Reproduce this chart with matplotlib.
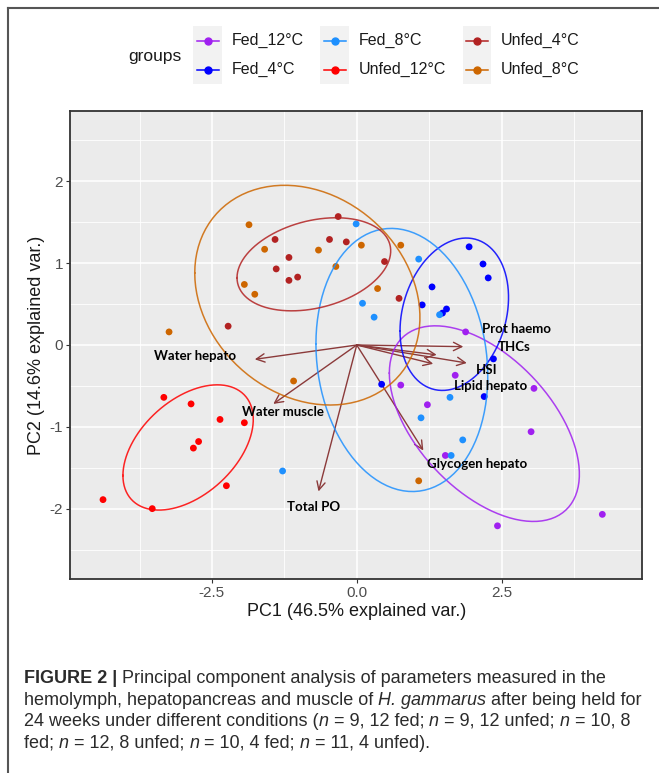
import matplotlib.pyplot as plt
import numpy as np
from matplotlib.lines import Line2D
from matplotlib.patches import Rectangle

# group order as in the legend (column-major, 3 columns x 2 rows)
groups = ["Fed_12°C", "Fed_4°C", "Fed_8°C", "Unfed_12°C", "Unfed_4°C", "Unfed_8°C"]
colors = ["#A020F0", "#0000FF", "#1E90FF", "#FF0000", "#B22222", "#CD6600"]

# PC scores
fed12_x = [1.88, 1.70, 0.76, 3.06, 1.22, 3.01, 1.53, 2.43, 4.24]
fed12_y = [0.16, -0.37, -0.49, -0.53, -0.73, -1.06, -1.35, -2.21, -2.07]
fed4_x = [1.94, 2.18, 2.27, 1.30, 1.13, 1.55, 1.48, 2.36, 0.43, 2.20]
fed4_y = [1.20, 0.99, 0.82, 0.71, 0.49, 0.44, 0.39, -0.17, -0.48, -0.63]
fed8_x = [-0.01, 1.07, 0.10, 0.30, 1.43, 1.61, 1.11, 1.83, 1.63, -1.28]
fed8_y = [1.48, 1.05, 0.51, 0.34, 0.37, -0.64, -0.89, -1.16, -1.35, -1.54]
unfed12_x = [-3.33, -2.86, -2.36, -1.94, -2.73, -2.82, -2.25, -4.38, -3.53]
unfed12_y = [-0.64, -0.72, -0.91, -0.95, -1.18, -1.26, -1.72, -1.89, -2.00]
unfed4_x = [-0.32, -1.41, -0.47, -0.18, -1.17, -1.39, -1.02, -1.17, 0.48, 0.73, -2.22]
unfed4_y = [1.57, 1.29, 1.29, 1.26, 1.07, 0.93, 0.83, 0.79, 1.02, 0.57, 0.23]
unfed8_x = [-1.86, -1.59, -0.66, 0.08, 0.76, -0.36, -1.94, -1.76, 0.36, -3.24, -1.09, 1.07]
unfed8_y = [1.47, 1.17, 1.16, 1.22, 1.22, 0.96, 0.74, 0.62, 0.69, 0.16, -0.44, -1.66]

scores_x = [fed12_x, fed4_x, fed8_x, unfed12_x, unfed4_x, unfed8_x]
scores_y = [fed12_y, fed4_y, fed8_y, unfed12_y, unfed4_y, unfed8_y]

# variable loadings (arrow tips) and label positions
var_names = ["Water hepato", "Water muscle", "Total PO", "Glycogen hepato",
             "Prot haemo", "THCs", "Lipid hepato", "HSI"]
load_x = [-1.76, -1.44, -0.66, 1.15, 1.84, 1.38, 1.32, 1.90]
load_y = [-0.175, -0.72, -1.79, -1.29, -0.02, -0.12, -0.23, -0.22]
lab_x = [-2.79, -1.28, -0.74, 2.08, 2.75, 2.72, 2.32, 2.25]
lab_y = [-0.14, -0.82, -1.98, -1.46, 0.20, -0.02, -0.50, -0.31]

x_ticks = [-2.5, 0.0, 2.5]
y_ticks = [-2, -1, 0, 1, 2]

ELLIPSE_PROB = 0.68
W, H = 659, 773


def fx(px):
    return px / W


def fy(py):
    return 1 - py / H


def data_ellipse(x, y, prob, n=100):
    pts = np.column_stack([x, y])
    mu = pts.mean(axis=0)
    sigma = np.cov(pts, rowvar=False)
    ed = np.sqrt(-2 * np.log(1 - prob))
    theta = np.linspace(-np.pi, np.pi, n)
    circle = np.column_stack([np.cos(theta), np.sin(theta)])
    upper = np.linalg.cholesky(sigma).T
    return circle @ upper * ed + mu


def draw_runs(fig, x, y, runs, size):
    renderer = fig.canvas.get_renderer()
    cur = x
    for txt, weight, style in runs:
        t = fig.text(cur, y, txt, fontsize=size, fontweight=weight, fontstyle=style,
                     family="Liberation Sans", color="#2b2b2b", va="baseline", ha="left")
        bb = t.get_window_extent(renderer=renderer)
        cur += bb.width / fig.bbox.width


plt.rcParams["font.family"] = ["Liberation Sans", "DejaVu Sans"]
plt.rcParams["axes.unicode_minus"] = False
fig = plt.figure(figsize=(W / 100, H / 100), dpi=100)
ax = fig.add_axes([fx(70), fy(579), fx(642.3) - fx(70), fy(111) - fy(579)])
ax.set_facecolor("#EBEBEB")

ax.set_xlim(-4.95, 4.93)
ax.set_ylim(-2.86, 2.86)
ax.set_xticks(x_ticks)
ax.set_xticklabels(["-2.5", "0.0", "2.5"])
ax.set_yticks(y_ticks)
ax.set_xticks([-3.75, -1.25, 1.25, 3.75], minor=True)
ax.set_yticks([-2.5, -1.5, -0.5, 0.5, 1.5, 2.5], minor=True)
ax.grid(which="major", color="white", lw=1.1, zorder=0)
ax.grid(which="minor", color="white", lw=0.6, zorder=0)
ax.set_axisbelow(True)
ax.tick_params(which="minor", length=0)
ax.tick_params(which="major", length=3, color="#333333", labelsize=11,
               labelcolor="#4D4D4D", pad=2)
for sp in ax.spines.values():
    sp.set_color("#333333")
    sp.set_linewidth(1.3)

ax.set_xlabel("PC1 (46.5% explained var.)", fontsize=13, color="#1a1a1a", labelpad=2)
ax.set_ylabel("PC2 (14.6% explained var.)", fontsize=13, color="#1a1a1a", labelpad=3)

# loadings
for tx, ty in zip(load_x, load_y):
    ax.annotate("", xy=(tx, ty), xytext=(0, 0),
                arrowprops=dict(arrowstyle="->,head_length=0.6,head_width=0.3",
                                color="#8B3A3A", lw=1.0, shrinkA=0, shrinkB=0,
                                mutation_scale=10), zorder=2)

# scores
for gx, gy, c in zip(scores_x, scores_y, colors):
    ax.scatter(gx, gy, s=24, color=c, edgecolors="none", zorder=3)

# normal data ellipses
for gx, gy, c in zip(scores_x, scores_y, colors):
    ell = data_ellipse(gx, gy, ELLIPSE_PROB)
    ax.plot(ell[:, 0], ell[:, 1], color=c, lw=1.1, alpha=0.85, zorder=4)

for name, lx, ly in zip(var_names, lab_x, lab_y):
    ax.text(lx, ly, name, ha="center", va="center", fontsize=9.5, fontweight="bold",
            family="Lato", color="black", zorder=5)

# legend, drawn ggplot style
fig.text(fx(155), fy(56), "groups", fontsize=12.5, color="#1a1a1a", ha="center", va="center")
key_cols = [207.5, 334.7, 477]
key_rows = [40.5, 69.5]
for i, (g, c) in enumerate(zip(groups, colors)):
    kx = key_cols[i // 2]
    ky = key_rows[i % 2]
    fig.patches.append(Rectangle((fx(kx - 14.5), fy(ky + 14)), 29 / W, 28 / H,
                                 transform=fig.transFigure, facecolor="#F2F2F2",
                                 edgecolor="none"))
    fig.add_artist(Line2D([fx(kx - 11), fx(kx + 11)], [fy(ky), fy(ky)], color=c, lw=1.1))
    fig.add_artist(Line2D([fx(kx)], [fy(ky)], marker="o", markersize=5, color=c, lw=0))
    fig.text(fx(kx + 24), fy(ky), g, fontsize=11.5, color="#1a1a1a", ha="left", va="center")

# frame around figure
fig.add_artist(Line2D([fx(8), fx(8)], [fy(8), 0], color="#555555", lw=1.5))
fig.add_artist(Line2D([fx(8), 1], [fy(8), fy(8)], color="#555555", lw=1.5))

# caption
cap = 13
draw_runs(fig, fx(24), fy(683), [("FIGURE 2 | ", "bold", "normal"),
          ("Principal component analysis of parameters measured in the", "normal", "normal")], cap)
draw_runs(fig, fx(24), fy(705), [("hemolymph, hepatopancreas and muscle of ", "normal", "normal"),
          ("H. gammarus", "normal", "italic"),
          (" after being held for", "normal", "normal")], cap)
draw_runs(fig, fx(24), fy(726), [("24 weeks under different conditions (", "normal", "normal"),
          ("n", "normal", "italic"), (" = 9, 12 fed; ", "normal", "normal"),
          ("n", "normal", "italic"), (" = 9, 12 unfed; ", "normal", "normal"),
          ("n", "normal", "italic"), (" = 10, 8", "normal", "normal")], cap)
draw_runs(fig, fx(24), fy(748), [("fed; ", "normal", "normal"),
          ("n", "normal", "italic"), (" = 12, 8 unfed; ", "normal", "normal"),
          ("n", "normal", "italic"), (" = 10, 4 fed; ", "normal", "normal"),
          ("n", "normal", "italic"), (" = 11, 4 unfed).", "normal", "normal")], cap)

fig.savefig("out.png", dpi=100)
